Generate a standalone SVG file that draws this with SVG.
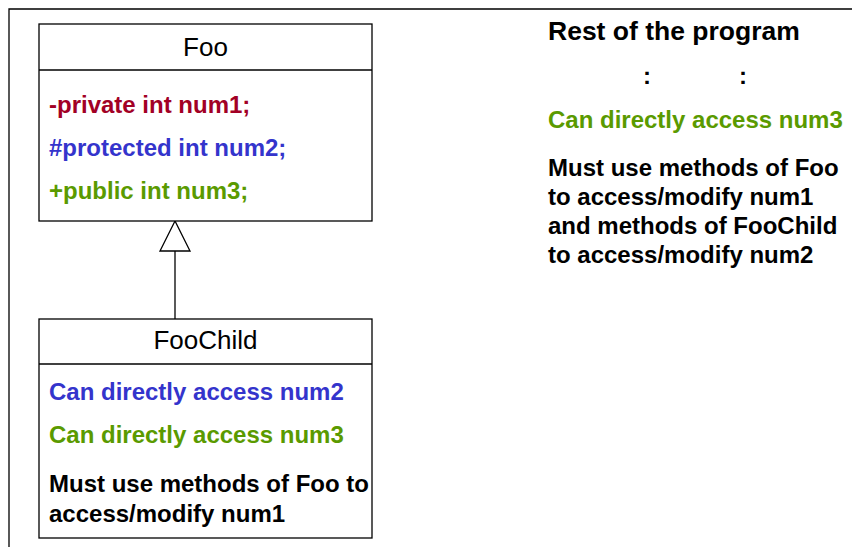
<svg xmlns="http://www.w3.org/2000/svg" width="852" height="547" viewBox="0 0 852 547">
<style>
.box{fill:#fff;stroke:#000;stroke-width:1.3}
.t{font-family:"Liberation Sans",Arial,sans-serif}
.title{font-size:26px;text-anchor:middle;fill:#000}
.b{font-size:24px;font-weight:bold}
.h{font-size:26.5px;font-weight:bold}
.red{fill:#a20025}
.blue{fill:#3434cc}
.green{fill:#5a9a00}
.blk{fill:#000}
</style>
<rect width="852" height="547" fill="#fff"/>
<g id="frame">
<path d="M9,547 V9 H852" fill="none" stroke="#000" stroke-width="1.3"/>
</g>
<g id="connectors">
<line x1="175" y1="251" x2="175" y2="319" stroke="#000" stroke-width="1.3"/>
<polygon points="175,221 160,251 190,251" fill="#fff" stroke="#000" stroke-width="1.3"/>
</g>
<g id="foo">
<rect class="box" x="39" y="24" width="333" height="197"/>
<line x1="39" y1="70" x2="372" y2="70" stroke="#000" stroke-width="1.3"/>
<text class="t title" x="205.5" y="56">Foo</text>
<text class="t b red" x="49" y="113">-private int num1;</text>
<text class="t b blue" x="49" y="156">#protected int num2;</text>
<text class="t b green" x="49" y="199">+public int num3;</text>
</g>
<g id="foochild">
<rect class="box" x="39" y="319" width="333" height="219"/>
<line x1="39" y1="364" x2="372" y2="364" stroke="#000" stroke-width="1.3"/>
<text class="t title" x="205.5" y="349">FooChild</text>
<text class="t b blue" x="49" y="400">Can directly access num2</text>
<text class="t b green" x="49" y="443">Can directly access num3</text>
<text class="t b blk" x="49" y="492">Must use methods of Foo to</text>
<text class="t b blk" x="49" y="522">access/modify num1</text>
</g>
<g id="rest">
<text class="t h blk" x="548" y="40">Rest of the program</text>
<text class="t b blk" x="647" y="84" text-anchor="middle">:</text>
<text class="t b blk" x="743" y="84" text-anchor="middle">:</text>
<text class="t b green" x="548" y="128">Can directly access num3</text>
<text class="t b blk" x="548" y="176">Must use methods of Foo</text>
<text class="t b blk" x="548" y="205">to access/modify num1</text>
<text class="t b blk" x="548" y="234">and methods of FooChild</text>
<text class="t b blk" x="548" y="263">to access/modify num2</text>
</g>
</svg>
